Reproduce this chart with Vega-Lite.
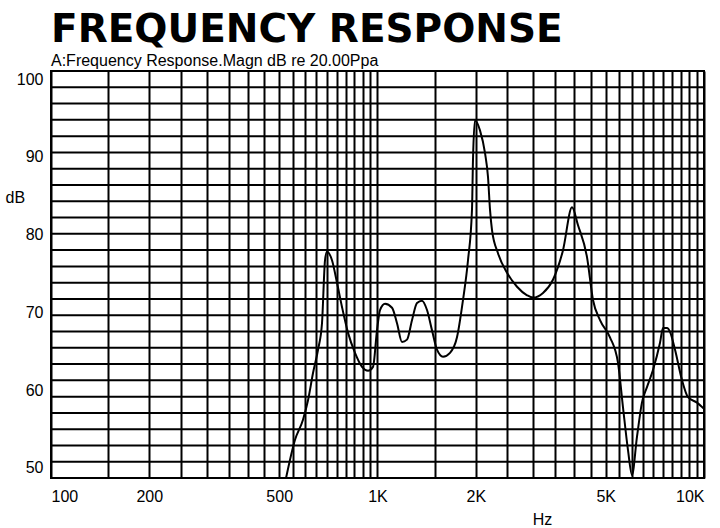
{
  "$schema": "https://vega.github.io/schema/vega-lite/v6.json",
  "autosize": "none",
  "width": 653,
  "height": 407,
  "padding": {"left": 51, "top": 71, "right": 16, "bottom": 50},
  "background": "white",
  "title": {
    "text": "FREQUENCY RESPONSE",
    "subtitle": "A:Frequency Response.Magn dB re 20.00Ppa",
    "anchor": "start",
    "frame": "group",
    "font": "DejaVu Sans",
    "fontSize": 39,
    "fontWeight": "bold",
    "color": "black",
    "subtitleFont": "Liberation Sans",
    "subtitleFontSize": 16,
    "subtitleColor": "black",
    "subtitlePadding": 3,
    "offset": 2
  },
  "config": {
    "view": {"stroke": "black", "strokeWidth": 2},
    "axis": {
      "labelFont": "Liberation Sans",
      "labelFontSize": 16,
      "labelColor": "black",
      "titleFont": "Liberation Sans",
      "titleFontSize": 16,
      "titleFontWeight": "normal",
      "titleColor": "black",
      "domain": false,
      "ticks": false
    }
  },
  "datasets": {
    "curve": [
      {"f": 524.6, "db": 48.7},
      {"f": 558.7, "db": 53.6},
      {"f": 591.3, "db": 56.2},
      {"f": 612.6, "db": 58.7},
      {"f": 634.6, "db": 62.2},
      {"f": 657.4, "db": 65.2},
      {"f": 676.1, "db": 68.6},
      {"f": 690.6, "db": 76.7},
      {"f": 700.4, "db": 77.8},
      {"f": 725.5, "db": 76.7},
      {"f": 751.6, "db": 73.8},
      {"f": 778.5, "db": 70.7},
      {"f": 812.1, "db": 67.4},
      {"f": 853.3, "db": 64.8},
      {"f": 896.6, "db": 63.0},
      {"f": 935.4, "db": 62.5},
      {"f": 968.8, "db": 63.0},
      {"f": 996.5, "db": 67.7},
      {"f": 1017.9, "db": 70.3},
      {"f": 1054.4, "db": 71.1},
      {"f": 1107.8, "db": 70.6},
      {"f": 1147.5, "db": 68.6},
      {"f": 1188.5, "db": 66.2},
      {"f": 1231.3, "db": 66.5},
      {"f": 1275.4, "db": 69.0},
      {"f": 1321.3, "db": 71.2},
      {"f": 1368.6, "db": 71.5},
      {"f": 1417.9, "db": 70.3},
      {"f": 1468.7, "db": 67.7},
      {"f": 1521.3, "db": 65.2},
      {"f": 1587.1, "db": 64.3},
      {"f": 1667.6, "db": 64.8},
      {"f": 1751.7, "db": 66.8},
      {"f": 1827.6, "db": 71.6},
      {"f": 1893.1, "db": 76.7},
      {"f": 1947.1, "db": 83.2},
      {"f": 1960.9, "db": 89.6},
      {"f": 1988.6, "db": 94.7},
      {"f": 2060, "db": 93.4},
      {"f": 2134, "db": 90.5},
      {"f": 2180, "db": 87.4},
      {"f": 2211, "db": 83.2},
      {"f": 2242, "db": 80.6},
      {"f": 2339, "db": 77.6},
      {"f": 2493, "db": 75.1},
      {"f": 2675, "db": 73.3},
      {"f": 2871, "db": 72.2},
      {"f": 2995, "db": 71.9},
      {"f": 3213, "db": 72.5},
      {"f": 3447, "db": 74.2},
      {"f": 3700, "db": 78.0},
      {"f": 3943, "db": 83.5},
      {"f": 4113, "db": 81.2},
      {"f": 4382, "db": 77.1},
      {"f": 4571, "db": 71.6},
      {"f": 4803, "db": 69.0},
      {"f": 5153, "db": 66.8},
      {"f": 5453, "db": 63.5},
      {"f": 5648, "db": 57.8},
      {"f": 5851, "db": 52.3},
      {"f": 6018, "db": 49.1},
      {"f": 6233, "db": 54.0},
      {"f": 6456, "db": 58.4},
      {"f": 6689, "db": 60.4},
      {"f": 6978, "db": 62.6},
      {"f": 7333, "db": 66.1},
      {"f": 7490, "db": 68.0},
      {"f": 7705, "db": 68.0},
      {"f": 7869, "db": 67.5},
      {"f": 8152, "db": 65.2},
      {"f": 8563, "db": 61.3},
      {"f": 8934, "db": 59.1},
      {"f": 9520, "db": 58.4},
      {"f": 10000, "db": 57.6}
    ],
    "grid": [
      {"db": 50.80}, {"db": 52.90}, {"db": 54.99}, {"db": 57.08}, {"db": 59.17},
      {"db": 61.27}, {"db": 63.36}, {"db": 65.45}, {"db": 67.54}, {"db": 69.64},
      {"db": 71.73}, {"db": 73.82}, {"db": 75.91}, {"db": 78.01}, {"db": 80.10},
      {"db": 82.19}, {"db": 84.28}, {"db": 86.38}, {"db": 88.47}, {"db": 90.56},
      {"db": 92.65}, {"db": 94.75}, {"db": 96.84}, {"db": 98.93}
    ]
  },
  "layer": [
    {
      "data": {"name": "grid"},
      "mark": {"type": "rule", "color": "black", "strokeWidth": 2},
      "encoding": {
        "y": {"field": "db", "type": "quantitative"}
      }
    },
    {
      "data": {"name": "curve"},
      "mark": {"type": "line", "color": "black", "strokeWidth": 2, "interpolate": "monotone", "clip": true},
      "encoding": {
        "x": {
          "field": "f",
          "type": "quantitative",
          "scale": {"type": "log", "domain": [100, 10000], "nice": false},
          "axis": {
            "values": [100, 150, 200, 250, 300, 350, 400, 450, 500, 550, 600, 650, 700, 750, 800, 850, 900, 950, 1000, 1500, 2000, 2500, 3000, 3500, 4000, 4500, 5000, 5500, 6000, 6500, 7000, 7500, 8000, 8500, 9000, 9500, 10000],
            "labelExpr": "indexof([100, 200, 500, 1000, 2000, 5000, 10000], datum.value) >= 0 ? (datum.value >= 1000 ? (datum.value / 1000) + 'K' : '' + datum.value) : ''",
            "labelFlush": true,
            "labelOverlap": false,
            "labelPadding": 10,
            "grid": true,
            "gridColor": "black",
            "gridWidth": 2,
            "gridOpacity": 1,
            "title": "Hz",
            "titleX": 491,
            "titleY": 41,
            "titleAlign": "center",
            "titleBaseline": "middle"
          }
        },
        "y": {
          "field": "db",
          "type": "quantitative",
          "scale": {"domain": [48.71, 101.03], "nice": false, "zero": false},
          "axis": {
            "values": [50, 60, 70, 80, 90, 100],
            "grid": false,
            "labelPadding": 8,
            "title": "dB",
            "titleAngle": 0,
            "titleX": -46,
            "titleY": 126,
            "titleAlign": "left",
            "titleBaseline": "middle"
          }
        }
      }
    }
  ]
}
